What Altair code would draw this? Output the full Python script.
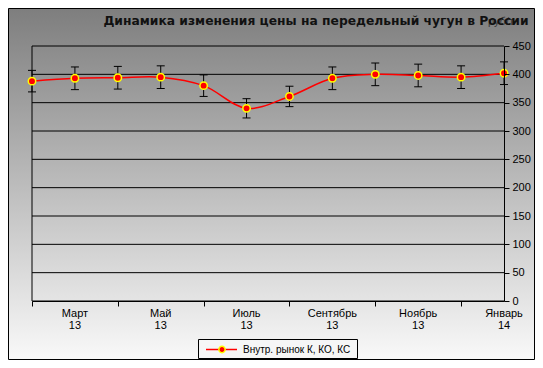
import altair as alt
import pandas as pd

# ---- data ----
months = ["Февраль", "Март", "Апрель", "Май", "Июнь", "Июль",
          "Август", "Сентябрь", "Октябрь", "Ноябрь", "Декабрь", "Январь"]
years = ["13", "13", "13", "13", "13", "13", "13", "13", "13", "13", "13", "14"]
prices = [388, 393, 394, 395, 380, 340, 361, 393, 400, 398, 395, 402]
errors = [19, 20, 20, 20, 19, 17, 18, 20, 20, 20, 20, 20]
y_ticks = [0, 50, 100, 150, 200, 250, 300, 350, 400, 450]
x_tick_idx = [0, 2, 4, 6, 8, 10]
label_idx = [1, 3, 5, 7, 9, 11]
title_text = "Динамика изменения цены на передельный  чугун в России"
unit_text = "руб/т"
legend_text = "Внутр. рынок К, КО, КС"

W, H = 472, 255

df = pd.DataFrame({
    "i": list(range(len(months))),
    "month": months,
    "year": years,
    "price": prices,
    "err": errors,
})
df["lo"] = df["price"] - df["err"]
df["hi"] = df["price"] + df["err"]
lab = df[df["i"].isin(label_idx)].copy()
lab["label"] = lab["month"] + "\n" + lab["year"]
grid_df = pd.DataFrame({"v": y_ticks})
one = pd.DataFrame({"a": [0]})

FONT = "Liberation Sans"
xscale = alt.Scale(domain=[0, 11], nice=False, zero=False)
yscale = alt.Scale(domain=[0, 450], nice=False, zero=True)

yax = alt.Axis(
    orient="right", values=y_ticks, grid=False, title=None,
    tickSize=5, tickColor="black", domainColor="black",
    labelFont=FONT, labelFontSize=11, labelColor="black", labelPadding=3,
    labelOverlap=False, labelFlush=False, labelBound=False, zindex=1)
xax = alt.Axis(
    values=x_tick_idx, labels=False, title=None, grid=False,
    tickSize=5, tickColor="black", domainColor="black", zindex=1)


def X(f):
    return alt.X(f, scale=xscale, axis=xax)


def Y(f):
    return alt.Y(f, scale=yscale, axis=yax)


gradient = {
    "gradient": "linear", "x1": 0, "y1": 0, "x2": 0, "y2": 1,
    "stops": [{"offset": 0, "color": "#7e7e7e"},
              {"offset": 1, "color": "#f9f9f9"}],
}

bg = alt.Chart(one).mark_rect(fill=gradient, stroke="black", strokeWidth=1).encode(
    x=alt.value(-23.5), x2=alt.value(502.5), y=alt.value(-37.5), y2=alt.value(313.5)
)

grid = alt.Chart(grid_df).mark_rule(color="black", strokeWidth=1).encode(
    y=Y("v:Q"), x=alt.value(0), x2=alt.value(W),
)

left_line = alt.Chart(one).mark_rule(color="black", strokeWidth=1).encode(
    x=alt.value(0), y=alt.value(0), y2=alt.value(H)
)

ebar = alt.Chart(df).mark_rule(color="black", strokeWidth=1).encode(
    x=X("i:Q"), y=Y("lo:Q"), y2="hi:Q"
)
cap_lo = alt.Chart(df).mark_rule(color="black", strokeWidth=1, xOffset=-4, x2Offset=4).encode(
    x=X("i:Q"), x2="i:Q", y=Y("lo:Q")
)
cap_hi = alt.Chart(df).mark_rule(color="black", strokeWidth=1, xOffset=-4, x2Offset=4).encode(
    x=X("i:Q"), x2="i:Q", y=Y("hi:Q")
)

line = alt.Chart(df).mark_line(color="#ff0000", strokeWidth=1.5, interpolate="catmull-rom").encode(
    x=X("i:Q"), y=Y("price:Q")
)
pts = alt.Chart(df).mark_circle(fill="#ff0000", stroke="#ffff00", strokeWidth=1.5,
                                 size=55, opacity=1).encode(
    x=X("i:Q"), y=Y("price:Q")
)

xlabels = alt.Chart(lab).mark_text(font=FONT, fontSize=11, color="black", align="center",
                                    baseline="top", lineBreak="\n", lineHeight=12).encode(
    x=X("i:Q"), y=alt.value(H + 7), text="label:N"
)

unit = alt.Chart(one).mark_text(font=FONT, fontSize=11, color="#3a3a3a",
                                 align="center", baseline="middle").encode(
    x=alt.value(469), y=alt.value(-24), text=alt.value(unit_text)
)
title = alt.Chart(one).mark_text(font="DejaVu Sans", fontSize=12.3, fontWeight="bold",
                                  color="#111111", align="center", baseline="alphabetic").encode(
    x=alt.value(284), y=alt.value(-21), text=alt.value(title_text)
)

LY = 303.5
leg_box = alt.Chart(one).mark_rect(fill="#f6f6f6", stroke="black", strokeWidth=1).encode(
    x=alt.value(166.5), x2=alt.value(325.5), y=alt.value(293.5), y2=alt.value(312.5)
)
leg_line = alt.Chart(one).mark_rule(color="#ff0000", strokeWidth=1.5).encode(
    x=alt.value(174), x2=alt.value(205), y=alt.value(LY)
)
leg_pt = alt.Chart(one).mark_circle(fill="#ff0000", stroke="#ffff00", strokeWidth=1.5,
                                     size=40, opacity=1).encode(
    x=alt.value(190), y=alt.value(LY)
)
leg_txt = alt.Chart(one).mark_text(font=FONT, fontSize=10, color="black",
                                    align="left", baseline="middle").encode(
    x=alt.value(211), y=alt.value(LY), text=alt.value(legend_text)
)

chart = alt.layer(
    bg, grid, left_line, ebar, cap_lo, cap_hi, line, pts, xlabels,
    unit, title, leg_box, leg_line, leg_pt, leg_txt
).properties(
    width=W, height=H,
    autosize=alt.AutoSizeParams(type="none"),
    padding={"left": 24, "top": 38, "right": 31, "bottom": 59},
).configure_view(stroke=None)

chart.save("out.html", embed_options={"renderer": "svg", "actions": False})
